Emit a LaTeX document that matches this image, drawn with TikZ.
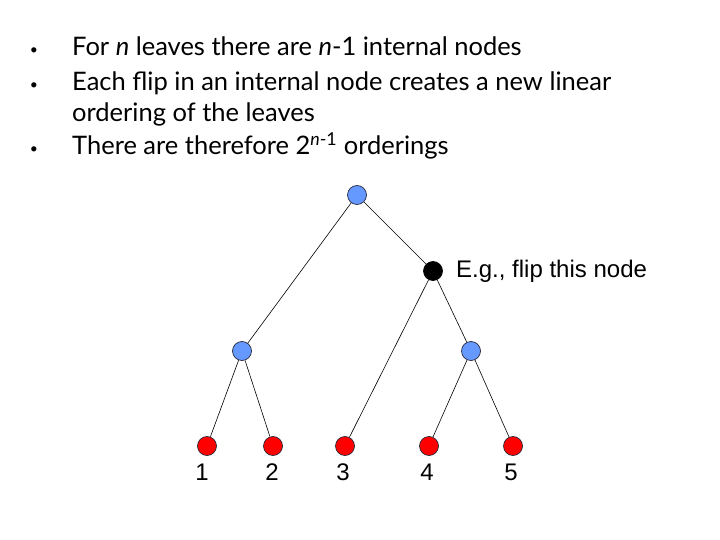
\documentclass[tikz,border=0pt]{standalone}
\usepackage{fontspec}
\setmainfont{Lato}
\newfontfamily\arialf{Liberation Sans}
\definecolor{nodeblue}{RGB}{102,153,255}
\definecolor{leafred}{RGB}{255,0,0}
\definecolor{rimcol}{RGB}{40,40,60}
\begin{document}
\begin{tikzpicture}[x=1pt,y=-1pt,
  dotbase/.style={circle,draw=rimcol,line width=0.7pt,minimum size=19pt,inner sep=0pt},
  innernode/.style={dotbase,fill=nodeblue},
  leafnode/.style={dotbase,fill=leafred},
  flipnode/.style={dotbase,draw=black,fill=black},
  edge/.style={line width=0.6pt},
  lbl/.style={font=\arialf\fontsize{24}{28}\selectfont,inner sep=0pt},
  btext/.style={anchor=base west,inner sep=0pt,font=\fontsize{25.5}{30}\selectfont},
  bmark/.style={anchor=base,inner sep=0pt,font=\fontsize{14}{16}\selectfont}]
\useasboundingbox (0,0) rectangle (720,540);
% bullet text
\node[bmark] (m1) at (34,55) {\textbullet};
\node[btext] (s1) at (72,56) {For \textit{n} leaves there are \textit{n}-1 internal nodes};
\node[bmark] (m2) at (34,90) {\textbullet};
\node[btext] (s2) at (72,91) {Each flip in an internal node creates a new linear};
\node[btext] (s3) at (72,122) {ordering of the leaves};
\node[bmark] (m3) at (34,154) {\textbullet};
\node[btext] (s4) at (72,155) {There are therefore 2\textsuperscript{\textit{n}-1} orderings};
% tree nodes
\node[innernode] (root) at (357,195) {};
\node[flipnode] (flip) at (433,271) {};
\node[innernode] (lb) at (242,351) {};
\node[innernode] (rb) at (471,351) {};
\node[leafnode] (l1) at (207,446) {};
\node[leafnode] (l2) at (273,446) {};
\node[leafnode] (l3) at (345,446) {};
\node[leafnode] (l4) at (429,446) {};
\node[leafnode] (l5) at (513,446) {};
% edges
\draw[edge] (root) -- (lb);
\draw[edge] (root) -- (flip);
\draw[edge] (flip) -- (l3);
\draw[edge] (flip) -- (rb);
\draw[edge] (lb) -- (l1);
\draw[edge] (lb) -- (l2);
\draw[edge] (rb) -- (l4);
\draw[edge] (rb) -- (l5);
% labels
\node[lbl] (t1) at (202,472) {1};
\node[lbl] (t2) at (272,472) {2};
\node[lbl] (t3) at (343,472) {3};
\node[lbl] (t4) at (427,472) {4};
\node[lbl] (t5) at (511,472) {5};
\node[lbl,anchor=west] (eg) at (456,271) {E.g., flip this node};
\end{tikzpicture}
\end{document}
